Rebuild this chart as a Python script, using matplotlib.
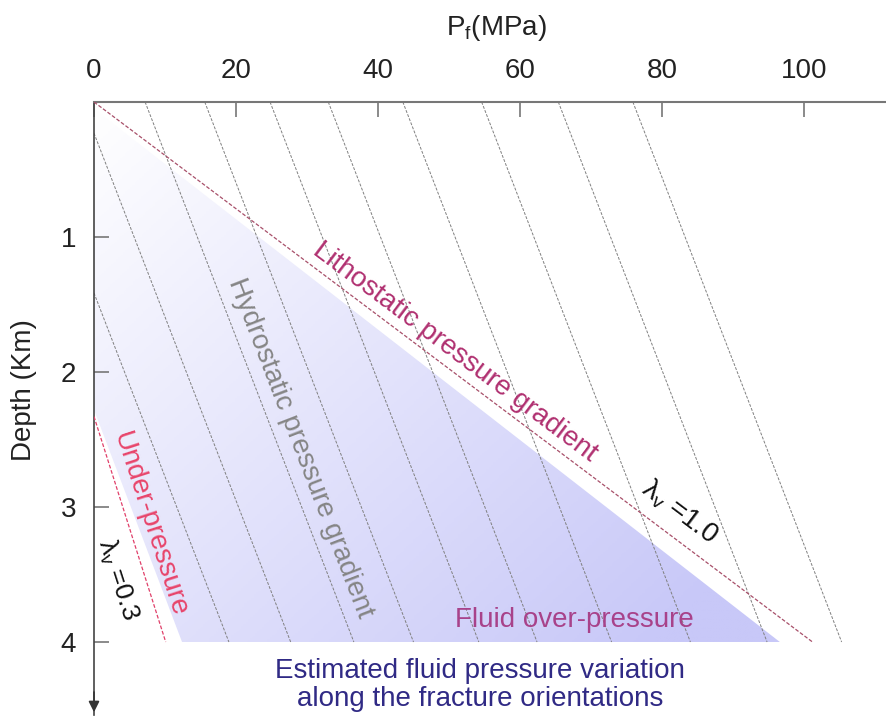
import numpy as np
import matplotlib
matplotlib.use('Agg')
import matplotlib.pyplot as plt
from matplotlib.patches import Polygon
from matplotlib.colors import LinearSegmentedColormap

plt.rcParams['font.family'] = ['Liberation Sans', 'DejaVu Sans']

# surface intercept (MPa) of each hydrostatic guide line, all with same gradient
hydro_p0 = [-10.4, -1.7, 7.2, 15.6, 24.8, 33.0, 43.5, 54.6, 65.4, 75.9]
hydro_grad = 7.35      # MPa/km
litho_grad = 25.3      # MPa/km  (lambda_v = 1.0)
under_top = 2.33       # km, where the under-pressure line leaves the axis
under_bot_p = 10.1     # MPa at 4 km (lambda_v = 0.3)
max_depth = 4.0

# envelope of estimated fluid pressure (MPa, km)
env_p = [0.0, 96.6, 12.4, 0.0]
env_d = [0.05, 4.0, 4.0, 2.28]

x_ticks = [0, 20, 40, 60, 80, 100]
y_ticks = [1, 2, 3, 4]

fig = plt.figure(figsize=(8.86, 7.2), dpi=100)
ax = fig.add_axes([94/886, 5/720, 792/886, 613/720])
ax.set_xlim(0, 792/7.1)
ax.set_ylim(613/135, 0)

# shaded envelope with a white -> lavender gradient
cmap = LinearSegmentedColormap.from_list('env', ['#ffffff', '#c8c8f8'])
pp, dd = np.meshgrid(np.linspace(0, 100, 300), np.linspace(0, max_depth, 300))
t = np.clip(0.6*pp/95 + 0.5*dd/4, 0, 1)
img = ax.imshow(t, cmap=cmap, vmin=0, vmax=1, extent=(0, 100, max_depth, 0),
                origin='upper', aspect='auto', zorder=1)
poly = Polygon(list(zip(env_p, env_d)), closed=True, facecolor='none',
               edgecolor='none', transform=ax.transData)
ax.add_patch(poly)
img.set_clip_path(poly)

# hydrostatic guide lines
for p0 in hydro_p0:
    d0 = max(0.0, -p0/hydro_grad)
    ax.plot([p0 + hydro_grad*d0, p0 + hydro_grad*max_depth], [d0, max_depth],
            color='#808080', lw=0.7, ls=(0, (3, 1.5)), zorder=2)

# lithostatic line
ax.plot([0, litho_grad*max_depth], [0, max_depth], color='#a8506a', lw=0.9,
        ls=(0, (3, 1.5)), zorder=3)
# under-pressure line
ax.plot([0, under_bot_p], [under_top, max_depth], color='#e0406a', lw=0.9,
        ls=(0, (3, 1.5)), zorder=3)

# axes styling
for s in ['right', 'bottom']:
    ax.spines[s].set_visible(False)
ax.spines['top'].set_color('#777777')
ax.spines['top'].set_linewidth(1.5)
ax.spines['left'].set_color('#444444')
ax.spines['left'].set_linewidth(1.2)
ax.xaxis.tick_top()
ax.set_xticks(x_ticks)
ax.set_yticks(y_ticks)
ax.tick_params(axis='both', direction='in', length=11, width=1.2, color='#777777',
               labelsize=20, labelcolor='#222222', pad=13)
ax.annotate('', xy=(0, 613/135), xytext=(0, 4.35),
            arrowprops=dict(arrowstyle='-|>', color='#333333', lw=1.2,
                            mutation_scale=16), annotation_clip=False)

fig.text(496/886, 1-28/720, 'P$_\\mathregular{f}$(MPa)', ha='center', va='center',
         fontsize=20, color='#222222')
fig.text(24/886, 1-390/720, 'Depth (Km)', rotation=90, ha='center', va='center',
         fontsize=20, color='#222222')

# annotations
kw = dict(ha='center', va='center', rotation_mode='anchor', fontsize=20, zorder=5)
ax.text(50.8, 1.85, 'Lithostatic pressure gradient', rotation=-36.9,
        color='#b03070', **kw)
ax.text(82.5, 3.04, '$\\mathregular{\\lambda_v}$ =1.0', rotation=-36.9,
        color='#111111', **kw)
ax.text(29.0, 2.56, 'Hydrostatic pressure gradient', rotation=-68.9,
        color='#858585', **kw)
ax.text(7.9, 3.13, 'Under-pressure', rotation=-72.1, color='#e8446a', **kw)
ax.text(3.4, 3.54, '$\\mathregular{\\lambda_v}$ =0.3', rotation=-72.1,
        color='#111111', ha='center', va='center', rotation_mode='anchor',
        fontsize=19, zorder=5)
ax.text(67.7, 3.84, 'Fluid over-pressure', color='#a8428a', **kw)
ax.text(54.4, 4.32, 'Estimated fluid pressure variation\nalong the fracture orientations',
        color='#302a85', ha='center', va='center', fontsize=20, linespacing=1.1,
        zorder=5)

fig.savefig('out.png', dpi=100)
